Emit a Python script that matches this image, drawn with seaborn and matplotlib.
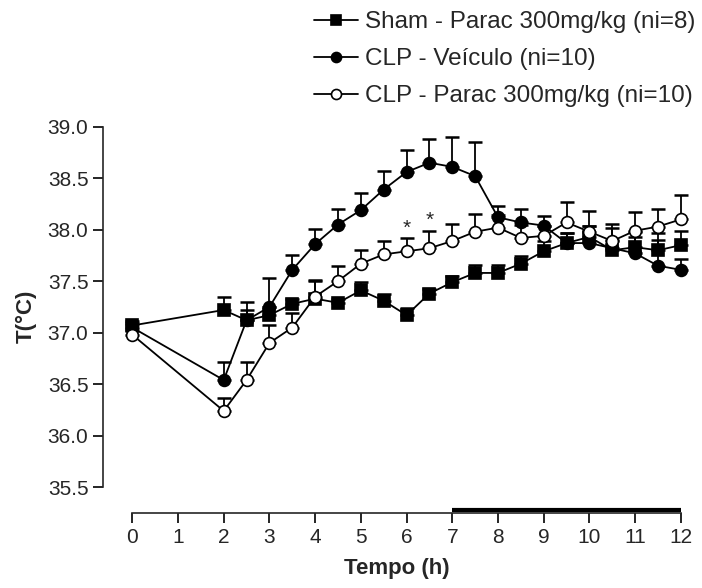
import matplotlib
matplotlib.use("Agg")
import matplotlib.pyplot as plt
import seaborn as sns
import numpy as np
import pandas as pd

sns.set_style("ticks")
plt.rcParams['font.family'] = ['Liberation Sans', 'DejaVu Sans']

time_h = [0, 2, 2.5, 3, 3.5, 4, 4.5, 5, 5.5, 6, 6.5, 7, 7.5, 8, 8.5, 9, 9.5, 10, 10.5, 11, 11.5, 12]

sham_mean = [37.07, 37.22, 37.12, 37.17, 37.28, 37.33, 37.29, 37.41, 37.31, 37.17, 37.38, 37.49,
             37.58, 37.58, 37.67, 37.79, 37.87, 37.93, 37.80, 37.83, 37.80, 37.85]
sham_sem = [0.04, 0.13, 0.18, 0.08, 0.05, 0.18, 0.04, 0.08, 0.07, 0.07, 0.04, 0.06,
            0.08, 0.08, 0.07, 0.10, 0.10, 0.11, 0.10, 0.10, 0.10, 0.14]

clp_mean = [37.05, 36.54, 37.12, 37.25, 37.61, 37.86, 38.05, 38.19, 38.39, 38.56, 38.65, 38.61,
            38.52, 38.12, 38.07, 38.04, 37.87, 37.87, 37.82, 37.77, 37.65, 37.61]
clp_sem = [0.04, 0.18, 0.10, 0.28, 0.14, 0.15, 0.15, 0.17, 0.18, 0.21, 0.23, 0.29,
           0.33, 0.11, 0.13, 0.09, 0.10, 0.17, 0.20, 0.21, 0.32, 0.11]

parac_mean = [36.98, 36.24, 36.54, 36.90, 37.05, 37.35, 37.50, 37.67, 37.76, 37.79, 37.82, 37.89,
              37.98, 38.02, 37.92, 37.94, 38.07, 37.98, 37.89, 37.99, 38.03, 38.10]
parac_sem = [0.04, 0.13, 0.18, 0.17, 0.14, 0.15, 0.15, 0.13, 0.13, 0.13, 0.17, 0.17,
             0.17, 0.12, 0.13, 0.10, 0.20, 0.20, 0.17, 0.18, 0.17, 0.24]

labels = ["Sham - Parac 300mg/kg (ni=8)", "CLP - Veículo (ni=10)", "CLP - Parac 300mg/kg (ni=10)"]
star_times = [6, 6.5]
xticks = list(range(0, 13))
yticks = [35.5, 36.0, 36.5, 37.0, 37.5, 38.0, 38.5, 39.0]

fig = plt.figure(figsize=(7.02, 5.88), dpi=100)
ax = fig.add_axes([103/702, 1 - 513/588, (690-103)/702, (513-120)/588])

series = [
    (labels[1], clp_mean, clp_sem, 'o', 'black', 'black', 8.5, 1),
    (labels[0], sham_mean, sham_sem, 's', 'black', 'black', 8.5, 2),
    (labels[2], parac_mean, parac_sem, 'o', 'white', 'black', 8.5, 3),
]
for lab, m, s, mk, fc, ec, ms, z in series:
    df = pd.DataFrame({"t": time_h, "T": m})
    ax.errorbar(time_h, m, yerr=[np.zeros(len(s)), s], fmt='none', ecolor='black',
                elinewidth=1.3, capsize=5, capthick=1.8, zorder=z)
    sns.lineplot(data=df, x="t", y="T", ax=ax, color='black', lw=1.3, marker=mk,
                 markersize=ms, markerfacecolor=fc, markeredgecolor=ec, markeredgewidth=1.2,
                 zorder=z + 0.5, label=lab)

if ax.get_legend():
    ax.get_legend().remove()
h, l = ax.get_legend_handles_labels()
order = [l.index(x) for x in labels]
fig.legend([h[i] for i in order], [l[i] for i in order], loc='upper left',
           bbox_to_anchor=(314/702, 1 - 11/588), frameon=False, fontsize=17.5, handlelength=1.8,
           handletextpad=0.3, labelspacing=0.62, borderaxespad=0, borderpad=0, markerscale=0.85)

for t in star_times:
    i = time_h.index(t)
    ax.text(t, parac_mean[i] + parac_sem[i] + 0.005, "*", ha='center', va='bottom', fontsize=15)

ax.plot([7, 12], [35.279, 35.279], color='black', lw=3, solid_capstyle='butt')

ax.set_xlim(-0.641, 12.2)
ax.set_ylim(35.249, 39.065)
ax.set_xticks(xticks)
ax.set_yticks(yticks)
ax.set_yticklabels([f"{v:.1f}" for v in yticks])
ax.spines['top'].set_visible(False)
ax.spines['right'].set_visible(False)
ax.spines['left'].set_bounds(35.5, 39.0)
ax.spines['bottom'].set_bounds(0, 12)
ax.spines['left'].set_linewidth(1.2)
ax.spines['bottom'].set_linewidth(1.2)
ax.tick_params(axis='both', labelsize=15, width=1.2, length=7, direction='out', color='black')
ax.set_xlabel("Tempo (h)", fontsize=16, fontweight='bold', labelpad=8)
ax.set_ylabel("T(°C)", fontsize=16, fontweight='bold', labelpad=8)

fig.savefig("out.png", dpi=100)
